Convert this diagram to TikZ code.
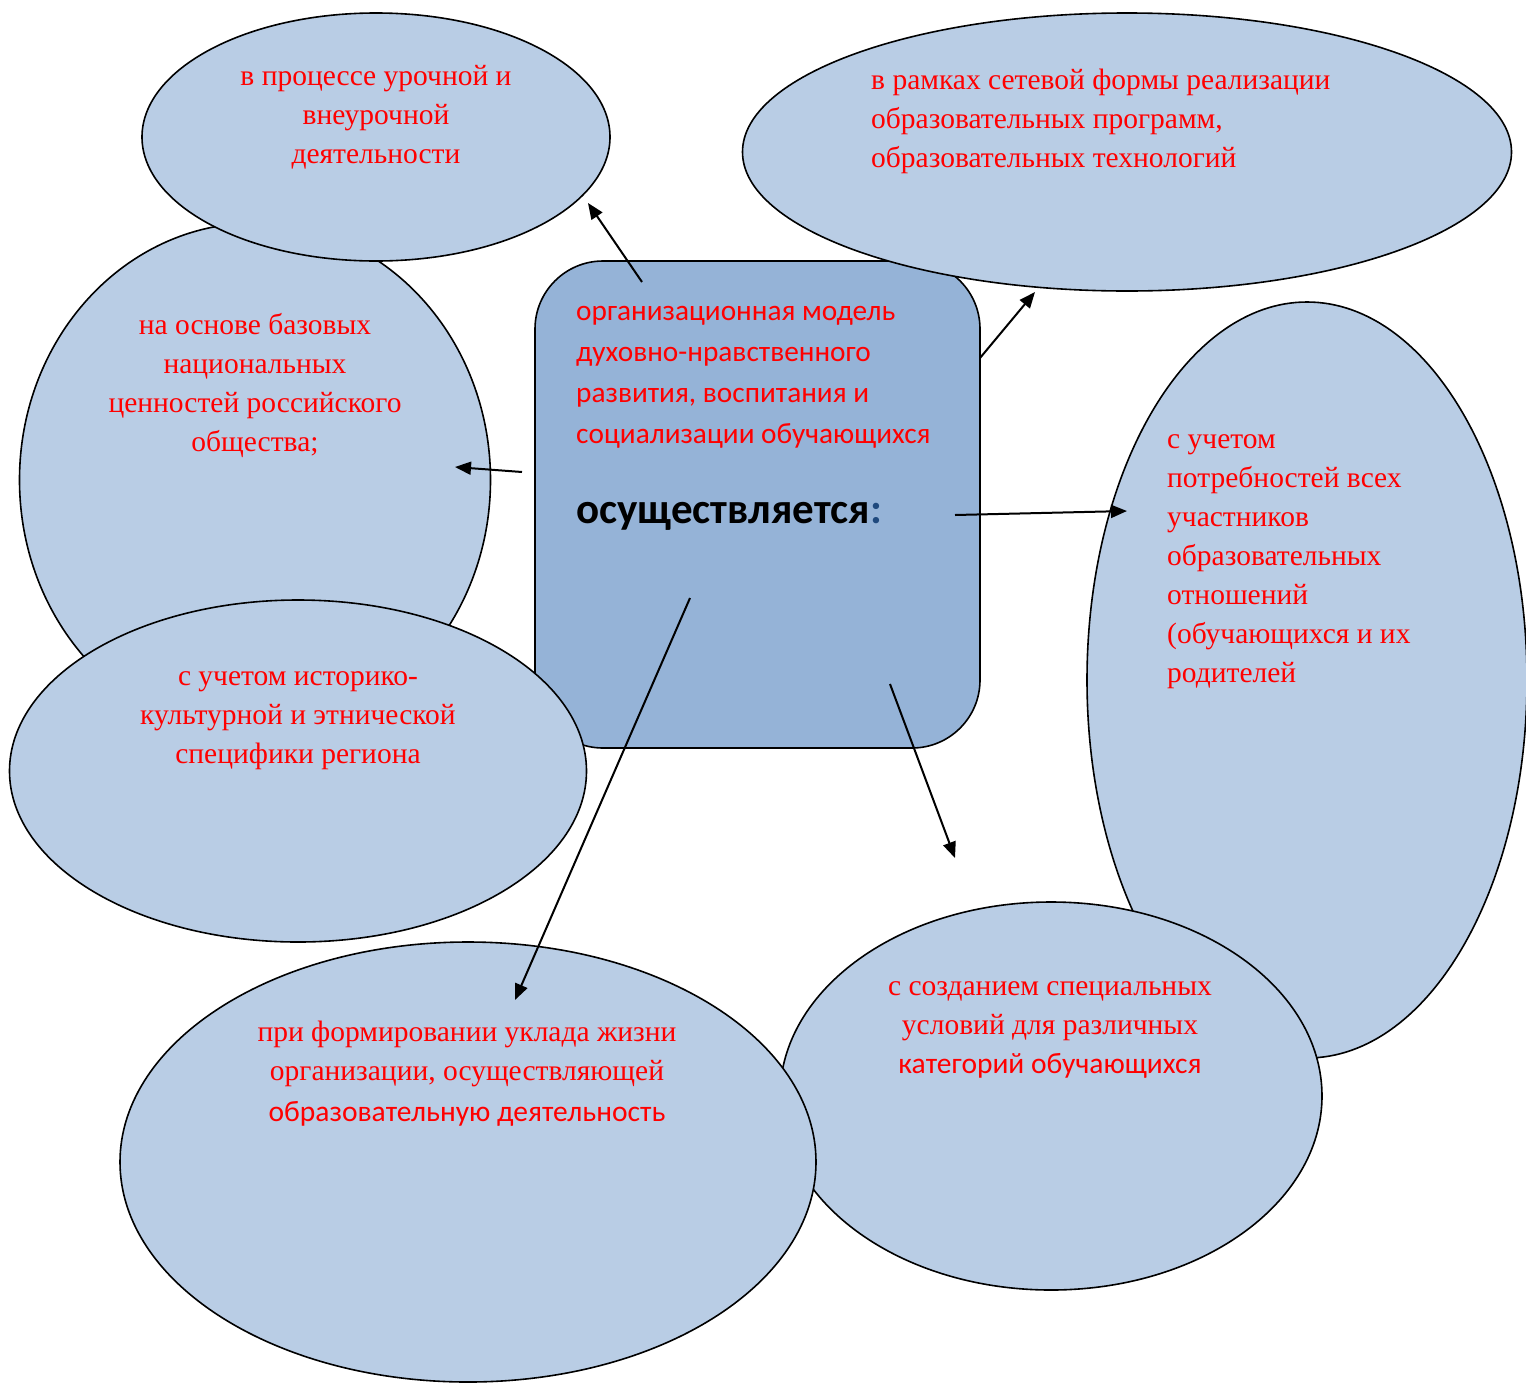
\documentclass[tikz,border=0pt]{standalone}
\usepackage{fontspec}
\setmainfont{Liberation Serif}
\newfontfamily\calfont{Carlito}
\usetikzlibrary{shapes.geometric,arrows.meta}
\definecolor{lightblue}{HTML}{B9CDE5}
\definecolor{midblue}{HTML}{95B3D7}
\definecolor{colonblue}{HTML}{1F497D}
\definecolor{txtred}{HTML}{FF0000}
\tikzset{
  oval/.style={ellipse, draw=black, line width=1.6pt, fill=lightblue, inner sep=0pt},
  modelbox/.style={draw=black, line width=1.6pt, fill=midblue, rounded corners=68pt},
  serif/.style={text=txtred, inner sep=0pt, font=\fontsize{29.5}{39}\selectfont, execute at begin node=\strut},
  sanstxt/.style={text=txtred, inner sep=0pt, font=\calfont\fontsize{29.3}{41}\selectfont, execute at begin node=\strut},
  conn/.style={line width=2pt, -{Triangle[length=16pt,width=13pt]}}
}
\begin{document}
\begin{tikzpicture}[x=1pt,y=-1pt]
\useasboundingbox (0,0) rectangle (1526,1382);
% shapes (back to front)
\node[oval, minimum width=471pt, minimum height=514pt] (e2) at (255,480) {};
\node[oval, minimum width=468pt, minimum height=248pt] (e1) at (376,137) {};
\draw[modelbox] (535,261) rectangle (980,748);
\coordinate (boxc) at (757,505);
\node[oval, minimum width=769pt, minimum height=278pt] (e4) at (1127,152) {};
\node[oval, minimum width=577pt, minimum height=342pt] (e3) at (298,771) {};
\node[oval, minimum width=440pt, minimum height=756pt] (e5) at (1307,680) {};
\node[oval, minimum width=542pt, minimum height=388pt] (e7) at (1051,1096) {};
\node[oval, minimum width=696pt, minimum height=440pt] (e6) at (468,1162) {};
% texts
\node[serif, align=center, anchor=north] (t1) at (376,65) {в процессе урочной и\\внеурочной\\деятельности};
\node[serif, align=center, anchor=north] (t2) at (255,313) {на основе базовых\\национальных\\ценностей российского\\общества;};
\node[serif, align=center, anchor=north] (t3) at (298,671) {с учетом историко-\\культурной и этнической\\специфики региона};
\node[serif, align=left, anchor=north west] (t4) at (871,69) {в рамках сетевой формы реализации\\образовательных программ,\\образовательных технологий};
\node[serif, align=left, anchor=north west] (t5) at (1167,434) {с учетом\\потребностей всех\\участников\\образовательных\\отношений\\(обучающихся и их\\родителей};
\node[serif, align=center, anchor=north] (t6) at (467,1021) {при формировании уклада жизни\\организации, осуществляющей\\[2pt]{\calfont образовательную деятельность}};
\node[serif, align=center, anchor=north] (t7) at (1050,981) {с созданием специальных\\условий для различных\\{\calfont категорий обучающихся}};
\node[sanstxt, align=left, anchor=north west] (t0) at (576,306) {организационная модель\\духовно-нравственного\\развития, воспитания и\\социализации обучающихся};
\node[inner sep=0pt, anchor=base west, font=\calfont\bfseries\fontsize{43}{50}\selectfont] (t00) at (576,523) {осуществляется\textcolor{colonblue}{:}};
% connector end points
\coordinate (s1) at (642,282); \coordinate (p1) at (588,203);
\coordinate (s2) at (980,358); \coordinate (p2) at (1035,292);
\coordinate (s3) at (522,472); \coordinate (p3) at (455,467);
\coordinate (s4) at (955,515); \coordinate (p4) at (1127,511);
\coordinate (s5) at (890,684); \coordinate (p5) at (955,858);
\coordinate (s6) at (690,598); \coordinate (p6) at (515,1000);
\draw[conn] (s1) -- (p1);
\draw[conn] (s2) -- (p2);
\draw[conn] (s3) -- (p3);
\draw[conn] (s4) -- (p4);
\draw[conn] (s5) -- (p5);
\draw[conn] (s6) -- (p6);
\end{tikzpicture}
\end{document}
